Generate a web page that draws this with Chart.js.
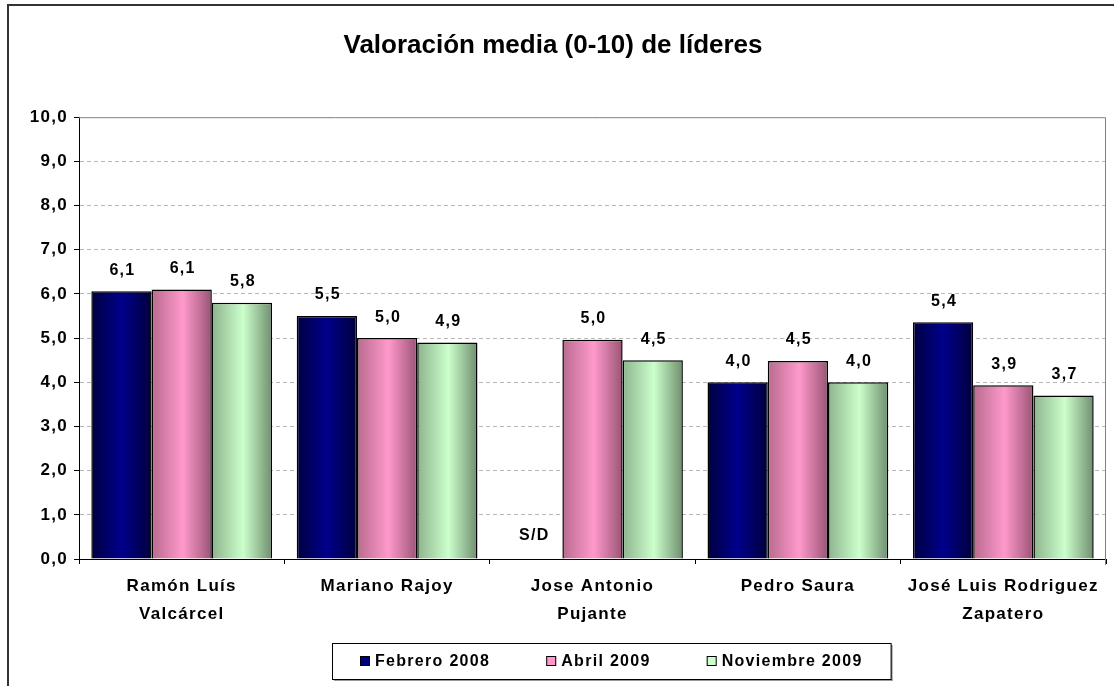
<!DOCTYPE html>
<html>
<head>
<meta charset="utf-8">
<script src="https://cdn.jsdelivr.net/npm/chart.js@4.4.0/dist/chart.umd.min.js"></script>
<style>
html,body{margin:0;padding:0;background:#fff;}
#wrap{position:absolute;left:0;top:0;width:1114px;height:686px;}
</style>
</head>
<body>
<div id="wrap"><canvas id="c" width="1114" height="686"></canvas></div>
<script>
// ---- data ----
const chartTitle = "Valoración media (0-10) de líderes";
const categories = [["Ramón Luís", "Valcárcel"], ["Mariano Rajoy"], ["Jose Antonio", "Pujante"], ["Pedro Saura"], ["José Luis Rodriguez", "Zapatero"]];
const seriesNames = ["Febrero 2008", "Abril 2009", "Noviembre 2009"];
const febrero2008 = [6.06, 5.5, null, 4.0, 5.36];
const abril2009 = [6.1, 5.0, 4.96, 4.48, 3.93];
const noviembre2009 = [5.8, 4.9, 4.5, 4.0, 3.7];
const yTickValues = [0, 1, 2, 3, 4, 5, 6, 7, 8, 9, 10];
const missingLabel = "S/D";

// ---- styles ----
const FONT = "'Liberation Sans', Arial, Helvetica, sans-serif";
const SPACING = "1.3px";
const legendColors = ["#000080", "#ff99cc", "#ccffcc"];
const gradientStops = [
  [[0, "#000040"], [0.5, "#00008c"], [1, "#00003c"]],
  [[0, "#b86a8e"], [0.52, "#ff99cc"], [1, "#9a5474"]],
  [[0, "#8db48d"], [0.52, "#ccffcc"], [1, "#6e8e6e"]]
];
const CAT_PCT = 0.88;

Chart.defaults.font.family = FONT;
Chart.defaults.color = "#000";

function fmt(v) { return (Math.round(v * 10) / 10).toFixed(1).replace(".", ","); }

function barGradient(context) {
  const chart = context.chart;
  const xs = chart.scales.x;
  if (!chart.chartArea || !xs) return legendColors[context.datasetIndex];
  const n = chart.data.labels.length;
  const catW = (xs.right - xs.left) / n;
  const barW = catW * CAT_PCT / chart.data.datasets.length;
  const center = xs.getPixelForValue(context.dataIndex) + (context.datasetIndex - 1) * barW;
  const g = chart.ctx.createLinearGradient(center - barW / 2, 0, center + barW / 2, 0);
  gradientStops[context.datasetIndex].forEach(s => g.addColorStop(s[0], s[1]));
  return g;
}

const spacingPlugin = {
  id: "textSpacing",
  afterInit(chart) {
    const tb = chart.titleBlock;
    if (tb && !tb._wrapped) {
      const orig = tb.draw.bind(tb);
      tb.draw = function () {
        const ctx = chart.ctx;
        const prev = ctx.letterSpacing;
        ctx.letterSpacing = "0px";
        orig();
        ctx.letterSpacing = prev;
      };
      tb._wrapped = true;
    }
  },
  beforeDraw(chart) { chart.ctx.letterSpacing = SPACING; },
  afterDraw(chart) { chart.ctx.letterSpacing = "0px"; }
};

const framePlugin = {
  id: "frame",
  beforeDraw(chart) {
    const ctx = chart.ctx;
    ctx.save();
    ctx.fillStyle = "#fff";
    ctx.fillRect(0, 0, chart.width, chart.height);
    ctx.strokeStyle = "#333";
    ctx.lineWidth = 2;
    ctx.beginPath();
    ctx.moveTo(8, chart.height + 2);
    ctx.lineTo(8, 5);
    ctx.lineTo(chart.width + 2, 5);
    ctx.stroke();
    ctx.restore();
  },
  beforeDatasetsDraw(chart) {
    const ctx = chart.ctx, a = chart.chartArea;
    ctx.save();
    ctx.strokeStyle = "#808080";
    ctx.lineWidth = 1;
    ctx.beginPath();
    ctx.moveTo(a.left, a.top + 0.5);
    ctx.lineTo(a.right - 0.5, a.top + 0.5);
    ctx.lineTo(a.right - 0.5, a.bottom + 6);
    ctx.stroke();
    ctx.restore();
  }
};

const labelPlugin = {
  id: "valueLabels",
  afterDatasetsDraw(chart) {
    const ctx = chart.ctx;
    const y0 = chart.scales.y.getPixelForValue(0);
    ctx.save();
    ctx.font = "bold 16px " + FONT;
    ctx.fillStyle = "#000";
    ctx.textAlign = "center";
    ctx.textBaseline = "middle";
    chart.data.datasets.forEach((ds, di) => {
      const meta = chart.getDatasetMeta(di);
      meta.data.forEach((el, i) => {
        const v = ds.data[i];
        if (v === null || v === undefined) {
          ctx.fillText(missingLabel, el.x + 2, y0 - 23);
        } else {
          ctx.fillText(fmt(v), el.x + 1, el.y - 21);
        }
      });
    });
    ctx.restore();
  }
};

const legendPlugin = {
  id: "boxLegend",
  afterDraw(chart) {
    const ctx = chart.ctx;
    ctx.save();
    ctx.letterSpacing = SPACING;
    ctx.font = "bold 16px " + FONT;
    const padX = 28, marker = 10, gap = 5, itemGap = 56;
    const widths = chart.data.datasets.map(ds => ctx.measureText(ds.label).width);
    let total = padX * 2;
    widths.forEach((w, i) => { total += marker + gap + w + (i > 0 ? itemGap : 0); });
    const cx = 611.5, top = 643, h = 36;
    const left = Math.round(cx - total / 2);
    ctx.fillStyle = "#999";
    ctx.fillRect(left + 2, top + h, total, 2);
    ctx.fillRect(left + total, top + 2, 2, h);
    ctx.fillStyle = "#fff";
    ctx.fillRect(left, top, total, h);
    ctx.strokeStyle = "#000";
    ctx.lineWidth = 1;
    ctx.strokeRect(left + 0.5, top + 0.5, total, h);
    let x = left + padX;
    const cy = top + h / 2;
    chart.data.datasets.forEach((ds, i) => {
      ctx.fillStyle = legendColors[i];
      ctx.fillRect(x, cy - 5, marker, marker);
      ctx.strokeStyle = "#000";
      ctx.strokeRect(x + 0.5, cy - 4.5, marker - 1, marker - 1);
      x += marker + gap;
      ctx.fillStyle = "#000";
      ctx.textAlign = "left";
      ctx.textBaseline = "middle";
      ctx.fillText(ds.label, x, cy + 1);
      x += widths[i] + itemGap;
    });
    ctx.restore();
  }
};

new Chart(document.getElementById("c"), {
  type: "bar",
  data: {
    labels: categories,
    datasets: [
      { label: seriesNames[0], data: febrero2008 },
      { label: seriesNames[1], data: abril2009 },
      { label: seriesNames[2], data: noviembre2009 }
    ].map(d => Object.assign(d, {
      backgroundColor: barGradient,
      borderColor: "#000",
      borderWidth: 1.5,
      barPercentage: 1.0,
      categoryPercentage: CAT_PCT
    }))
  },
  options: {
    responsive: false,
    animation: false,
    devicePixelRatio: 1,
    layout: { padding: { left: 0, right: 8, top: 0, bottom: 59 } },
    plugins: {
      legend: { display: false },
      tooltip: { enabled: false },
      title: {
        display: true,
        text: chartTitle,
        font: { size: 26, weight: "bold", family: FONT, lineHeight: 1.2 },
        color: "#000",
        padding: { top: 30, bottom: 56 }
      }
    },
    scales: {
      x: {
        grid: { offset: true, drawOnChartArea: false, drawTicks: true, tickLength: 5, tickColor: "#000", color: "#000" },
        border: { color: "#000", width: 1 },
        ticks: { font: { size: 17, weight: "bold", family: FONT, lineHeight: 1.65 }, color: "#000", padding: 8, maxRotation: 0, autoSkip: false },
        afterFit(s) { s.height = 68; }
      },
      y: {
        min: 0, max: 10,
        afterBuildTicks(s) { s.ticks = yTickValues.map(v => ({ value: v })); },
        grid: {
          color: ctx => (ctx.tick && (ctx.tick.value === 10 || ctx.tick.value === 0)) ? "rgba(0,0,0,0)" : "#b8b8b8",
          tickColor: "#000", tickLength: 5, tickBorderDash: [], lineWidth: 1
        },
        border: { color: "#000", width: 1, dash: [4, 3] },
        ticks: { font: { size: 17, weight: "bold", family: FONT }, color: "#000", padding: 6, callback: v => fmt(v) },
        afterFit(s) { s.width = 79; }
      }
    }
  },
  plugins: [spacingPlugin, framePlugin, labelPlugin, legendPlugin]
});
</script>
</body>
</html>
